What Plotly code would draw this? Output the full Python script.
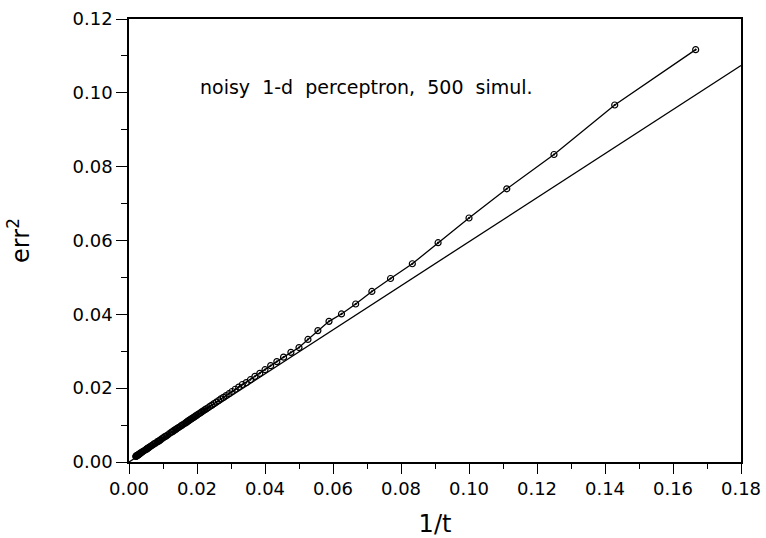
import plotly.graph_objects as go

# t values (x = 1/t)
t_values = [6, 7, 8, 9, 10, 11, 12, 13, 14, 15, 16, 17, 18, 19, 20, 21, 22, 23, 24, 25,
            26, 27, 28, 29, 30, 31, 32, 33, 34, 35, 36, 37, 38, 39, 40, 41, 42, 43, 44, 45,
            46, 47, 48, 49, 50, 51, 52, 53, 54, 55, 56, 57, 58, 59, 60,
            62, 64, 66, 68, 70, 72, 74, 76, 78, 80,
            84, 88, 92, 96, 100, 104, 108, 112, 116, 120,
            128, 136, 144, 152, 160, 168, 176, 184, 192, 200,
            220, 240, 260, 280, 300, 320, 340, 360, 380, 400, 420, 440, 460, 480, 500]
err2_values = [0.1117, 0.0967, 0.0833, 0.0740, 0.0661, 0.0594, 0.0537, 0.0497, 0.0462, 0.0428,
               0.0401, 0.0381, 0.0356, 0.0332, 0.0310, 0.0297, 0.0284, 0.0272, 0.0261, 0.0250,
               0.0240, 0.0232, 0.0223, 0.0215, 0.0210, 0.0203, 0.0197, 0.0191, 0.0185, 0.0180,
               0.0175, 0.0171, 0.0166, 0.0162, 0.0158, 0.0154, 0.0151, 0.0147, 0.0144, 0.0141,
               0.0138, 0.0135, 0.0132, 0.0130, 0.0127, 0.0125, 0.0122, 0.0120, 0.0118, 0.0116,
               0.0114, 0.0112, 0.0110, 0.0108, 0.0106,
               0.0103, 0.0100, 0.0097, 0.0094, 0.0092, 0.0089, 0.0087, 0.0085, 0.0082, 0.0081,
               0.0077, 0.0073, 0.0070, 0.0068, 0.0065, 0.0063, 0.0060, 0.0058, 0.0056, 0.0055,
               0.0051, 0.0049, 0.0046, 0.0044, 0.0042, 0.0040, 0.0038, 0.0037, 0.0035, 0.0034,
               0.0031, 0.0029, 0.0027, 0.0025, 0.0024, 0.0022, 0.0021, 0.0020, 0.0019, 0.0018,
               0.0018, 0.0017, 0.0016, 0.0016, 0.0015]

# asymptotic straight line
line_x = [0.0, 0.18]
line_y = [0.0, 0.1074]

annotation_text = "noisy\u00a0 1-d\u00a0 perceptron,\u00a0 500\u00a0 simul."
x_title = "1/t"
y_title = "err<sup>2</sup>"

inv_t = [1.0 / t for t in t_values]

FONT = "DejaVu Sans"

fig = go.Figure()
fig.add_trace(go.Scatter(x=line_x, y=line_y, mode="lines",
                         line=dict(color="black", width=1.3), showlegend=False))
fig.add_trace(go.Scatter(x=inv_t, y=err2_values, mode="lines+markers",
                         line=dict(color="black", width=1.3),
                         marker=dict(symbol="circle-open-dot", size=6, color="black",
                                     line=dict(width=1.2, color="black")),
                         showlegend=False))

fig.add_annotation(x=0.0202, y=0.1016, xref="x", yref="y", text=annotation_text,
                   showarrow=False, xanchor="left", yanchor="middle",
                   font=dict(family=FONT, size=19, color="black"))

axis_common = dict(showline=True, linecolor="black", linewidth=1.5, mirror=True,
                   showgrid=False, zeroline=False, ticks="outside", tickcolor="black",
                   tickwidth=1.3, tickformat=".2f", automargin=False,
                   tickfont=dict(family=FONT, size=18, color="black"))

fig.update_xaxes(range=[0, 0.18], dtick=0.02, tick0=0, ticklen=10,
                 minor=dict(dtick=0.01, ticklen=5, ticks="outside", tickcolor="black", tickwidth=1.3),
                 title=dict(text=x_title, font=dict(family=FONT, size=24, color="black"), standoff=20),
                 **axis_common)
fig.update_yaxes(range=[0, 0.12], dtick=0.02, tick0=0, ticklen=11,
                 minor=dict(dtick=0.01, ticklen=6, ticks="outside", tickcolor="black", tickwidth=1.3),
                 title=dict(text=y_title, font=dict(family=FONT, size=24, color="black"), standoff=36),
                 **axis_common)

fig.update_layout(width=766, height=538, margin=dict(l=129, r=25, t=19, b=76),
                  plot_bgcolor="white", paper_bgcolor="white")

fig.write_html("out.html", config={"displayModeBar": False},
               post_script="document.body.style.margin='0';document.body.style.overflow='hidden';")
